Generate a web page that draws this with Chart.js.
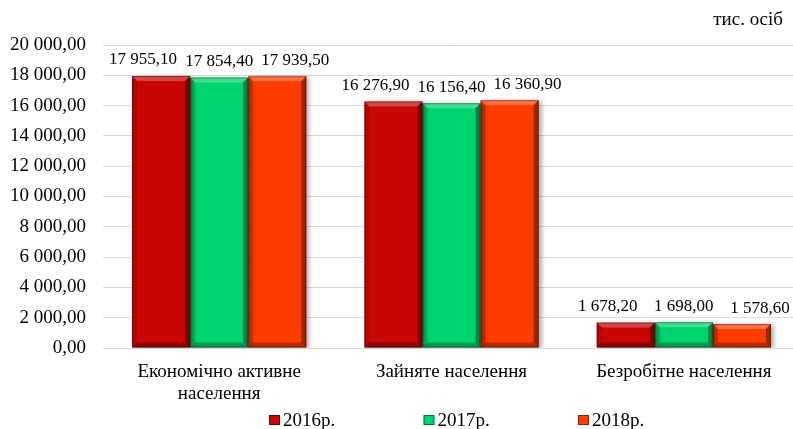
<!DOCTYPE html>
<html>
<head>
<meta charset="utf-8">
<script src="https://cdn.jsdelivr.net/npm/chart.js@4.4.1/dist/chart.umd.min.js"></script>
<style>
  body { margin: 0; background: #fff; }
  .marco { width: 793px; height: 429px; overflow: hidden; position: relative; }
</style>
</head>
<body>
<div class="marco">
  <canvas id="grafico" width="801" height="429"></canvas>
</div>
<script>
const categorias = [["Економічно активне", "населення"], "Зайняте населення", "Безробітне населення"];
const anos = ["2016р.", "2017р.", "2018р."];
const valores_2016 = [17955.1, 16276.9, 1678.2];
const valores_2017 = [17854.4, 16156.4, 1698.0];
const valores_2018 = [17939.5, 16360.9, 1578.6];
const colores = ["#c80606", "#00d46e", "#ff3c00"];
const eje_max = 20000;
const eje_paso = 2000;
const unidad = "тис. осіб";

const fuente = "'Liberation Serif', 'Times New Roman', serif";

function formato(v) {
  const partes = Number(v).toFixed(2).split(".");
  partes[0] = partes[0].replace(/\B(?=(\d{3})+(?!\d))/g, " ");
  return partes.join(",");
}

// bisel y sombra para que las barras parezcan 3D como en Excel
const bisel = {
  id: "bisel",
  beforeDatasetDraw(chart) {
    const ctx = chart.ctx;
    ctx.save();
    ctx.shadowColor = "rgba(0,0,0,0.35)";
    ctx.shadowBlur = 5;
    ctx.shadowOffsetX = 3;
    ctx.shadowOffsetY = 1;
  },
  afterDatasetDraw(chart) {
    chart.ctx.restore();
  },
  afterDatasetsDraw(chart) {
    const ctx = chart.ctx;
    chart.data.datasets.forEach((ds, i) => {
      chart.getDatasetMeta(i).data.forEach((bar) => {
        const w = bar.width;
        const l = bar.x - w / 2;
        const r = bar.x + w / 2;
        const t = bar.y;
        const b = bar.base;
        const s = Math.min(5, (b - t) / 2);
        const cara = (pts, color) => {
          ctx.beginPath();
          ctx.moveTo(pts[0][0], pts[0][1]);
          pts.slice(1).forEach((p) => ctx.lineTo(p[0], p[1]));
          ctx.closePath();
          ctx.fillStyle = color;
          ctx.fill();
        };
        ctx.save();
        cara([[l, t], [r, t], [r - s, t + s], [l + s, t + s]], "rgba(255,255,255,0.25)");
        cara([[r, t], [r, b], [r - s, b - s], [r - s, t + s]], "rgba(0,0,0,0.38)");
        cara([[l, b], [r, b], [r - s, b - s], [l + s, b - s]], "rgba(0,0,0,0.28)");
        cara([[l, t], [l + s, t + s], [l + s, b - s], [l, b]], "rgba(0,0,0,0.12)");
        ctx.strokeStyle = "rgba(0,0,0,0.35)";
        ctx.lineWidth = 1;
        ctx.strokeRect(l + 0.5, t + 0.5, w - 1, b - t - 1);
        ctx.restore();
      });
    });
  },
};

const etiquetas = {
  id: "etiquetas",
  afterDraw(chart) {
    const ctx = chart.ctx;
    ctx.save();
    ctx.font = "17px " + fuente;
    ctx.fillStyle = "#000";
    ctx.textAlign = "center";
    ctx.textBaseline = "middle";
    chart.data.datasets.forEach((ds, i) => {
      chart.getDatasetMeta(i).data.forEach((bar, j) => {
        ctx.fillText(formato(ds.data[j]), bar.x + (i - 1) * 18, bar.y - 16);
      });
    });

    // unidad arriba a la derecha
    ctx.font = "19px " + fuente;
    ctx.textAlign = "right";
    ctx.fillText(unidad, 783, 20);

    // leyenda abajo, centrada en el area del grafico
    const cx = (chart.chartArea.left + chart.chartArea.right) / 2;
    ctx.font = "19px " + fuente;
    ctx.textAlign = "left";
    chart.data.datasets.forEach((ds, i) => {
      const x = cx + (i - 1) * 154.5 - 28;
      const y = 420;
      ctx.fillStyle = ds.backgroundColor;
      ctx.fillRect(x, y - 5, 11, 10);
      ctx.strokeStyle = "rgba(0,0,0,0.45)";
      ctx.strokeRect(x + 0.5, y - 4.5, 10, 9);
      ctx.fillStyle = "#000";
      ctx.fillText(ds.label, x + 14, y + 1);
    });
    ctx.restore();
  },
};

const grafico = document.querySelector("#grafico");

const mi_grafico = new Chart(grafico, {
  type: "bar",
  data: {
    labels: categorias,
    datasets: [
      { label: anos[0], data: valores_2016, backgroundColor: colores[0] },
      { label: anos[1], data: valores_2017, backgroundColor: colores[1] },
      { label: anos[2], data: valores_2018, backgroundColor: colores[2] },
    ],
  },
  options: {
    responsive: false,
    animation: false,
    layout: { padding: { top: 45, right: 1, left: 0, bottom: 0 } },
    datasets: {
      bar: { categoryPercentage: 0.75, barPercentage: 1, borderWidth: 0 },
    },
    plugins: {
      legend: { display: false },
      tooltip: { enabled: false },
    },
    scales: {
      x: {
        grid: { display: false, drawTicks: false },
        border: { display: false },
        ticks: {
          color: "#000",
          padding: 13,
          maxRotation: 0,
          autoSkip: false,
          font: { family: fuente, size: 19, lineHeight: 1.15 },
        },
        afterFit(scale) {
          scale.height = 81;
        },
      },
      y: {
        min: 0,
        max: eje_max,
        grid: { color: "#d9d9d9", lineWidth: 1, drawTicks: false },
        border: { display: false },
        ticks: {
          stepSize: eje_paso,
          color: "#000",
          padding: 17,
          font: { family: fuente, size: 19 },
          callback: (v) => formato(v),
        },
        afterFit(scale) {
          scale.width = 103;
        },
      },
    },
  },
  plugins: [bisel, etiquetas],
});
</script>
</body>
</html>
